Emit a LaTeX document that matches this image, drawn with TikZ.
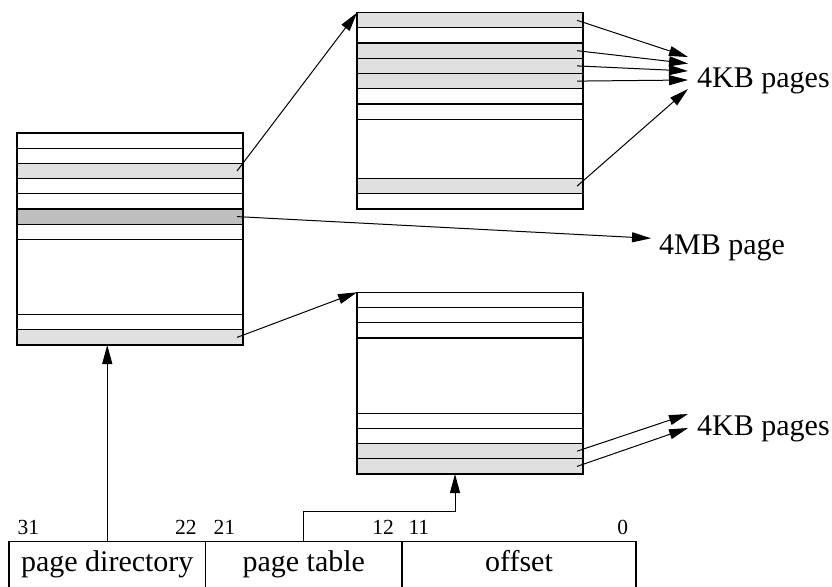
\documentclass[tikz,border=0pt]{standalone}
\usepackage{fontspec}
\setmainfont{Liberation Serif}
\usetikzlibrary{arrows.meta}

\definecolor{entrylight}{HTML}{E0E0E0}
\definecolor{entrydark}{HTML}{BEBEBE}

\begin{document}
\begin{tikzpicture}[x=1pt,y=-1pt,
  row/.style={draw, line width=1.2pt, minimum width=226pt, minimum height=15.2pt,
    inner sep=0pt, outer sep=0pt, anchor=north west},
  hi/.style={fill=entrylight},
  big/.style={fill=entrydark},
  frame/.style={draw, line width=1.2pt, inner sep=0pt, outer sep=0pt, anchor=north west,
    minimum width=226pt},
  arr/.style={-{Triangle[length=19pt,width=10pt]}, line width=1pt},
  lbl/.style={font=\fontsize{30}{34}\selectfont, inner sep=0pt},
  bitno/.style={font=\fontsize{21.5}{25}\selectfont, inner sep=0pt},
  field/.style={draw, line width=1.2pt, minimum height=48pt, inner sep=0pt, outer sep=0pt,
    anchor=north west, text height=19pt, text depth=7pt,
    font=\fontsize{30}{34}\selectfont}]

\useasboundingbox (0,0) rectangle (832,586);

% ---------- page directory ----------
\node[frame, minimum height=212pt] (dir) at (17,133) {};
\node[row]     (d1) at (17,133.0) {};
\node[row]     (d2) at (17,148.2) {};
\node[row,hi]  (d3) at (17,163.4) {};
\node[row]     (d4) at (17,178.6) {};
\node[row]     (d5) at (17,193.8) {};
\node[row,big] (d6) at (17,209.0) {};
\node[row]     (d7) at (17,224.2) {};
\node[row]     (d8) at (17,314.6) {};
\node[row,hi]  (d9) at (17,329.8) {};

% ---------- upper page table ----------
\node[frame, minimum height=196.3pt] (ta) at (357,12.7) {};
\node[row,hi]  (a1) at (357,12.7) {};
\node[row]     (a2) at (357,27.9) {};
\node[row,hi]  (a3) at (357,43.1) {};
\node[row,hi]  (a4) at (357,58.3) {};
\node[row,hi]  (a5) at (357,73.5) {};
\node[row]     (a6) at (357,88.7) {};
\node[row]     (a7) at (357,103.9) {};
\node[row,hi]  (a8) at (357,178.6) {};
\node[row]     (a9) at (357,193.8) {};

% ---------- lower page table ----------
\node[frame, minimum height=181.7pt] (tb) at (357,292.3) {};
\node[row]     (b1) at (357,292.3) {};
\node[row]     (b2) at (357,307.5) {};
\node[row]     (b3) at (357,322.7) {};
\node[row]     (b4) at (357,413.2) {};
\node[row]     (b5) at (357,428.4) {};
\node[row,hi]  (b6) at (357,443.6) {};
\node[row,hi]  (b7) at (357,458.8) {};

% ---------- page labels ----------
\node[lbl, anchor=base west] (kbA) at (697,87) {4KB pages};
\node[lbl, anchor=base west] (mb)  at (659,254) {4MB page};
\node[lbl, anchor=base west] (kbB) at (697,435) {4KB pages};

% ---------- linear address ----------
\node[field, minimum width=196.5pt] (fpd) at (9,541.7) {page directory};
\node[field, minimum width=196.5pt] (fpt) at (205.5,541.7) {page table};
\node[field, minimum width=234pt]   (fof) at (402,541.7) {offset};

\node[bitno, anchor=base west] (n31) at (17.3,534) {31};
\node[bitno, anchor=base east] (n22) at (196.7,534) {22};
\node[bitno, anchor=base west] (n21) at (213.3,534) {21};
\node[bitno, anchor=base east] (n12) at (394,534) {12};
\node[bitno, anchor=base west] (n11) at (408.3,534) {11};
\node[bitno, anchor=base east] (n0)  at (628.3,534) {0};

% ---------- connectors ----------
\coordinate (elbow) at (455,511.7);
\draw[arr] (fpd.north) -- (fpd.north |- dir.south);
\draw[arr] (fpt.north) |- (elbow) -- (elbow |- tb.south);

\draw[arr] ([xshift=-6pt]d3.east) -- (ta.north west);
\draw[arr] ([xshift=-6pt]d6.east) -- ([xshift=-8pt,yshift=15.7pt]mb.base west);
\draw[arr] ([xshift=-6pt]d9.east) -- (tb.north west);

\draw[arr] ([xshift=-6pt]a1.east) -- ([xshift=-9pt,yshift=30pt]kbA.base west);
\draw[arr] ([xshift=-6pt]a3.east) -- ([xshift=-9pt,yshift=23.5pt]kbA.base west);
\draw[arr] ([xshift=-6pt]a4.east) -- ([xshift=-9pt,yshift=16pt]kbA.base west);
\draw[arr] ([xshift=-6pt]a5.east) -- ([xshift=-9pt,yshift=7pt]kbA.base west);
\draw[arr] ([xshift=-6pt]a8.east) -- ([xshift=-9pt,yshift=-2pt]kbA.base west);

\draw[arr] ([xshift=-6pt]b6.east) -- ([xshift=-9pt,yshift=21pt]kbB.base west);
\draw[arr] ([xshift=-6pt]b7.east) -- ([xshift=-9pt,yshift=7pt]kbB.base west);

\end{tikzpicture}
\end{document}
